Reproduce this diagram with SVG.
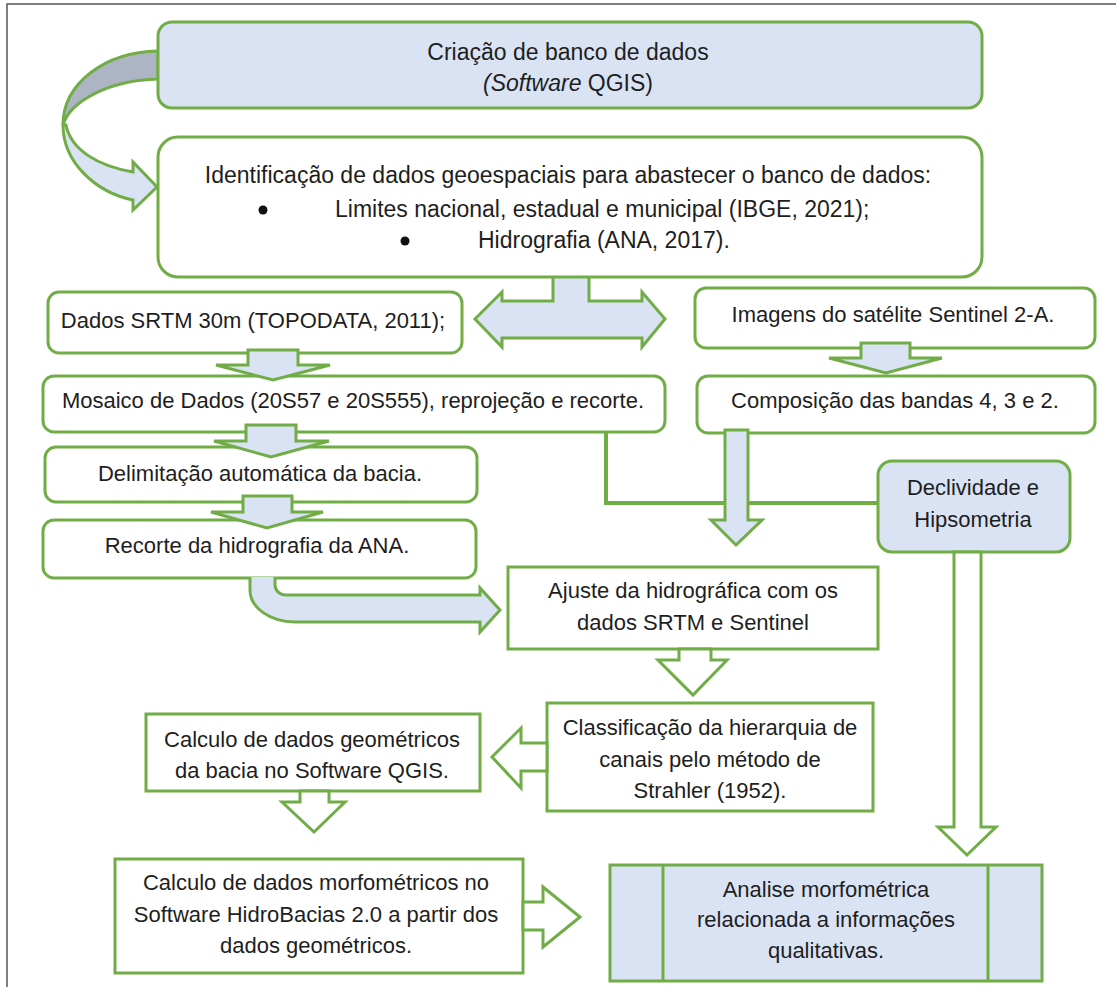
<svg xmlns="http://www.w3.org/2000/svg" width="1116" height="987" viewBox="0 0 1116 987">
<style>
.box{fill:#ffffff;stroke:#70ad47;stroke-width:3}
.bbox{fill:#dae3f3;stroke:#70ad47;stroke-width:3}
.arr{fill:#dae3f3;stroke:#70ad47;stroke-width:3;stroke-linejoin:miter}
.arrw{fill:#ffffff;stroke:#70ad47;stroke-width:3;stroke-linejoin:miter}
.ln{fill:none;stroke:#70ad47;stroke-width:4}
.t{font-family:"Liberation Sans",Arial,sans-serif;font-size:22px;fill:#1e1e1e;text-anchor:middle}
.tb{font-family:"Liberation Sans",Arial,sans-serif;font-size:23px;fill:#1e1e1e}
</style>
<rect x="0" y="0" width="1116" height="987" fill="#ffffff"/>
<path d="M7,987 V4 H1116" fill="none" stroke="#555555" stroke-width="1.5"/>

<g id="connectors">
  <path d="M158,51 C104,52 63,84 63,125 C70,101 110,80 158,79 Z" fill="#adb5c5" stroke="#70ad47" stroke-width="3"/>
  <path class="arr" d="M63,125 C63,162 95,192 133,200 L133,210 L157,187 L133,162 L133,172 C98,166 71,150 66,125 Z"/>
  <path class="arr" d="M553,277 V301 H502 V292 L475,319 L502,347 V338 H642 V347 L665,319 L642,292 V301 H589 V277"/>
  <polyline class="ln" points="606,433 606,503 878,503"/>
</g>

<g id="n1"><rect class="bbox" x="158" y="22" width="824" height="86" rx="14"/>
<text class="tb" x="568" y="60" text-anchor="middle">Criação de banco de dados</text>
<text class="tb" x="568" y="91" text-anchor="middle"><tspan font-style="italic">(Software</tspan> QGIS)</text></g>

<g id="n2"><rect class="box" x="158" y="137" width="824" height="140" rx="20"/>
<text class="tb" x="568" y="183" text-anchor="middle">Identificação de dados geoespaciais para abastecer o banco de dados:</text>
<circle cx="263" cy="210" r="4.5" fill="#111"/>
<text class="tb" x="335" y="217">Limites nacional, estadual e municipal (IBGE, 2021);</text>
<circle cx="405" cy="241" r="4.5" fill="#111"/>
<text class="tb" x="478" y="248">Hidrografia (ANA, 2017).</text></g>

<g id="n3"><rect class="box" x="48" y="292" width="414" height="61" rx="11"/>
<text class="t" x="253" y="328">Dados SRTM 30m (TOPODATA, 2011);</text></g>

<g id="n4"><rect class="box" x="695" y="288" width="400" height="60" rx="11"/>
<text class="t" x="893" y="322">Imagens do satélite Sentinel 2-A.</text></g>

<g id="n5"><rect class="box" x="43" y="376" width="622" height="56" rx="11"/>
<text class="t" x="353" y="408">Mosaico de Dados (20S57 e 20S555), reprojeção e recorte.</text></g>

<g id="n6"><rect class="box" x="697" y="376" width="398" height="57" rx="11"/>
<text class="t" x="895" y="408">Composição das bandas 4, 3 e 2.</text></g>

<g id="n7"><rect class="box" x="45" y="447" width="432" height="55" rx="11"/>
<text class="t" x="260" y="481">Delimitação automática da bacia.</text></g>

<g id="n8"><rect class="box" x="43" y="520" width="433" height="58" rx="11"/>
<text class="t" x="257" y="553">Recorte da hidrografia da ANA.</text></g>

<g id="n9"><rect class="bbox" x="878" y="461" width="192" height="91" rx="14"/>
<text class="t" x="973" y="495">Declividade e</text>
<text class="t" x="973" y="527">Hipsometria</text></g>

<g id="n10"><rect class="box" x="508" y="567" width="370" height="82"/>
<text class="t" x="693" y="598">Ajuste da hidrográfica com os</text>
<text class="t" x="693" y="630">dados SRTM e Sentinel</text></g>

<g id="n11"><rect class="box" x="547" y="703" width="326" height="108"/>
<text class="t" x="710" y="735">Classificação da hierarquia de</text>
<text class="t" x="710" y="767">canais pelo método de</text>
<text class="t" x="710" y="798">Strahler (1952).</text></g>

<g id="n12"><rect class="box" x="146" y="714" width="334" height="77"/>
<text class="t" x="312" y="747">Calculo de dados geométricos</text>
<text class="t" x="312" y="778">da bacia no Software QGIS.</text></g>

<g id="n13"><rect class="box" x="115" y="859" width="408" height="114"/>
<text class="t" x="316" y="890">Calculo de dados morfométricos no</text>
<text class="t" x="316" y="922">Software HidroBacias 2.0 a partir dos</text>
<text class="t" x="316" y="953">dados geométricos.</text></g>

<g id="n14"><rect class="bbox" x="610" y="865" width="432" height="116"/>
<line x1="663" y1="865" x2="663" y2="981" stroke="#70ad47" stroke-width="3"/>
<line x1="988" y1="865" x2="988" y2="981" stroke="#70ad47" stroke-width="3"/>
<text class="t" x="826" y="897">Analise morfométrica</text>
<text class="t" x="826" y="927">relacionada a informações</text>
<text class="t" x="826" y="958">qualitativas.</text></g>

<g id="arrows">
  <polygon class="arr" points="248,350 298,350 298,365 330,365 273,380 216,365 248,365"/>
  <polygon class="arr" points="246,425 296,425 296,441 329,441 271,457 214,441 246,441"/>
  <polygon class="arr" points="243,496 292,496 292,512 323,512 267,528 211,512 243,512"/>
  <polygon class="arr" points="861,343 910,343 910,358 942,358 886,373 829,358 861,358"/>
  <polygon class="arr" points="725,430 748,430 748,520 762,520 736,545 711,520 725,520"/>
  <path class="arr" d="M250,577 V590 A45,32 0 0 0 295,622 H480 V632 L500,610 L480,588 V595 H286 A11,10 0 0 1 275,585 V577"/>
  <polygon class="arrw" points="954,552 981,552 981,827 996,827 967,855 938,827 954,827"/>
  <polygon class="arrw" points="679,649 711,649 711,660 727,660 693,695 658,660 679,660"/>
  <polygon class="arrw" points="547,743 521,743 521,728 492,757 521,788 521,771 547,771"/>
  <polygon class="arrw" points="300,791 329,791 329,802 345,802 314,832 282,802 300,802"/>
  <polygon class="arrw" points="523,902 543,902 543,887 580,917 543,947 543,930 523,930"/>
</g>
</svg>
